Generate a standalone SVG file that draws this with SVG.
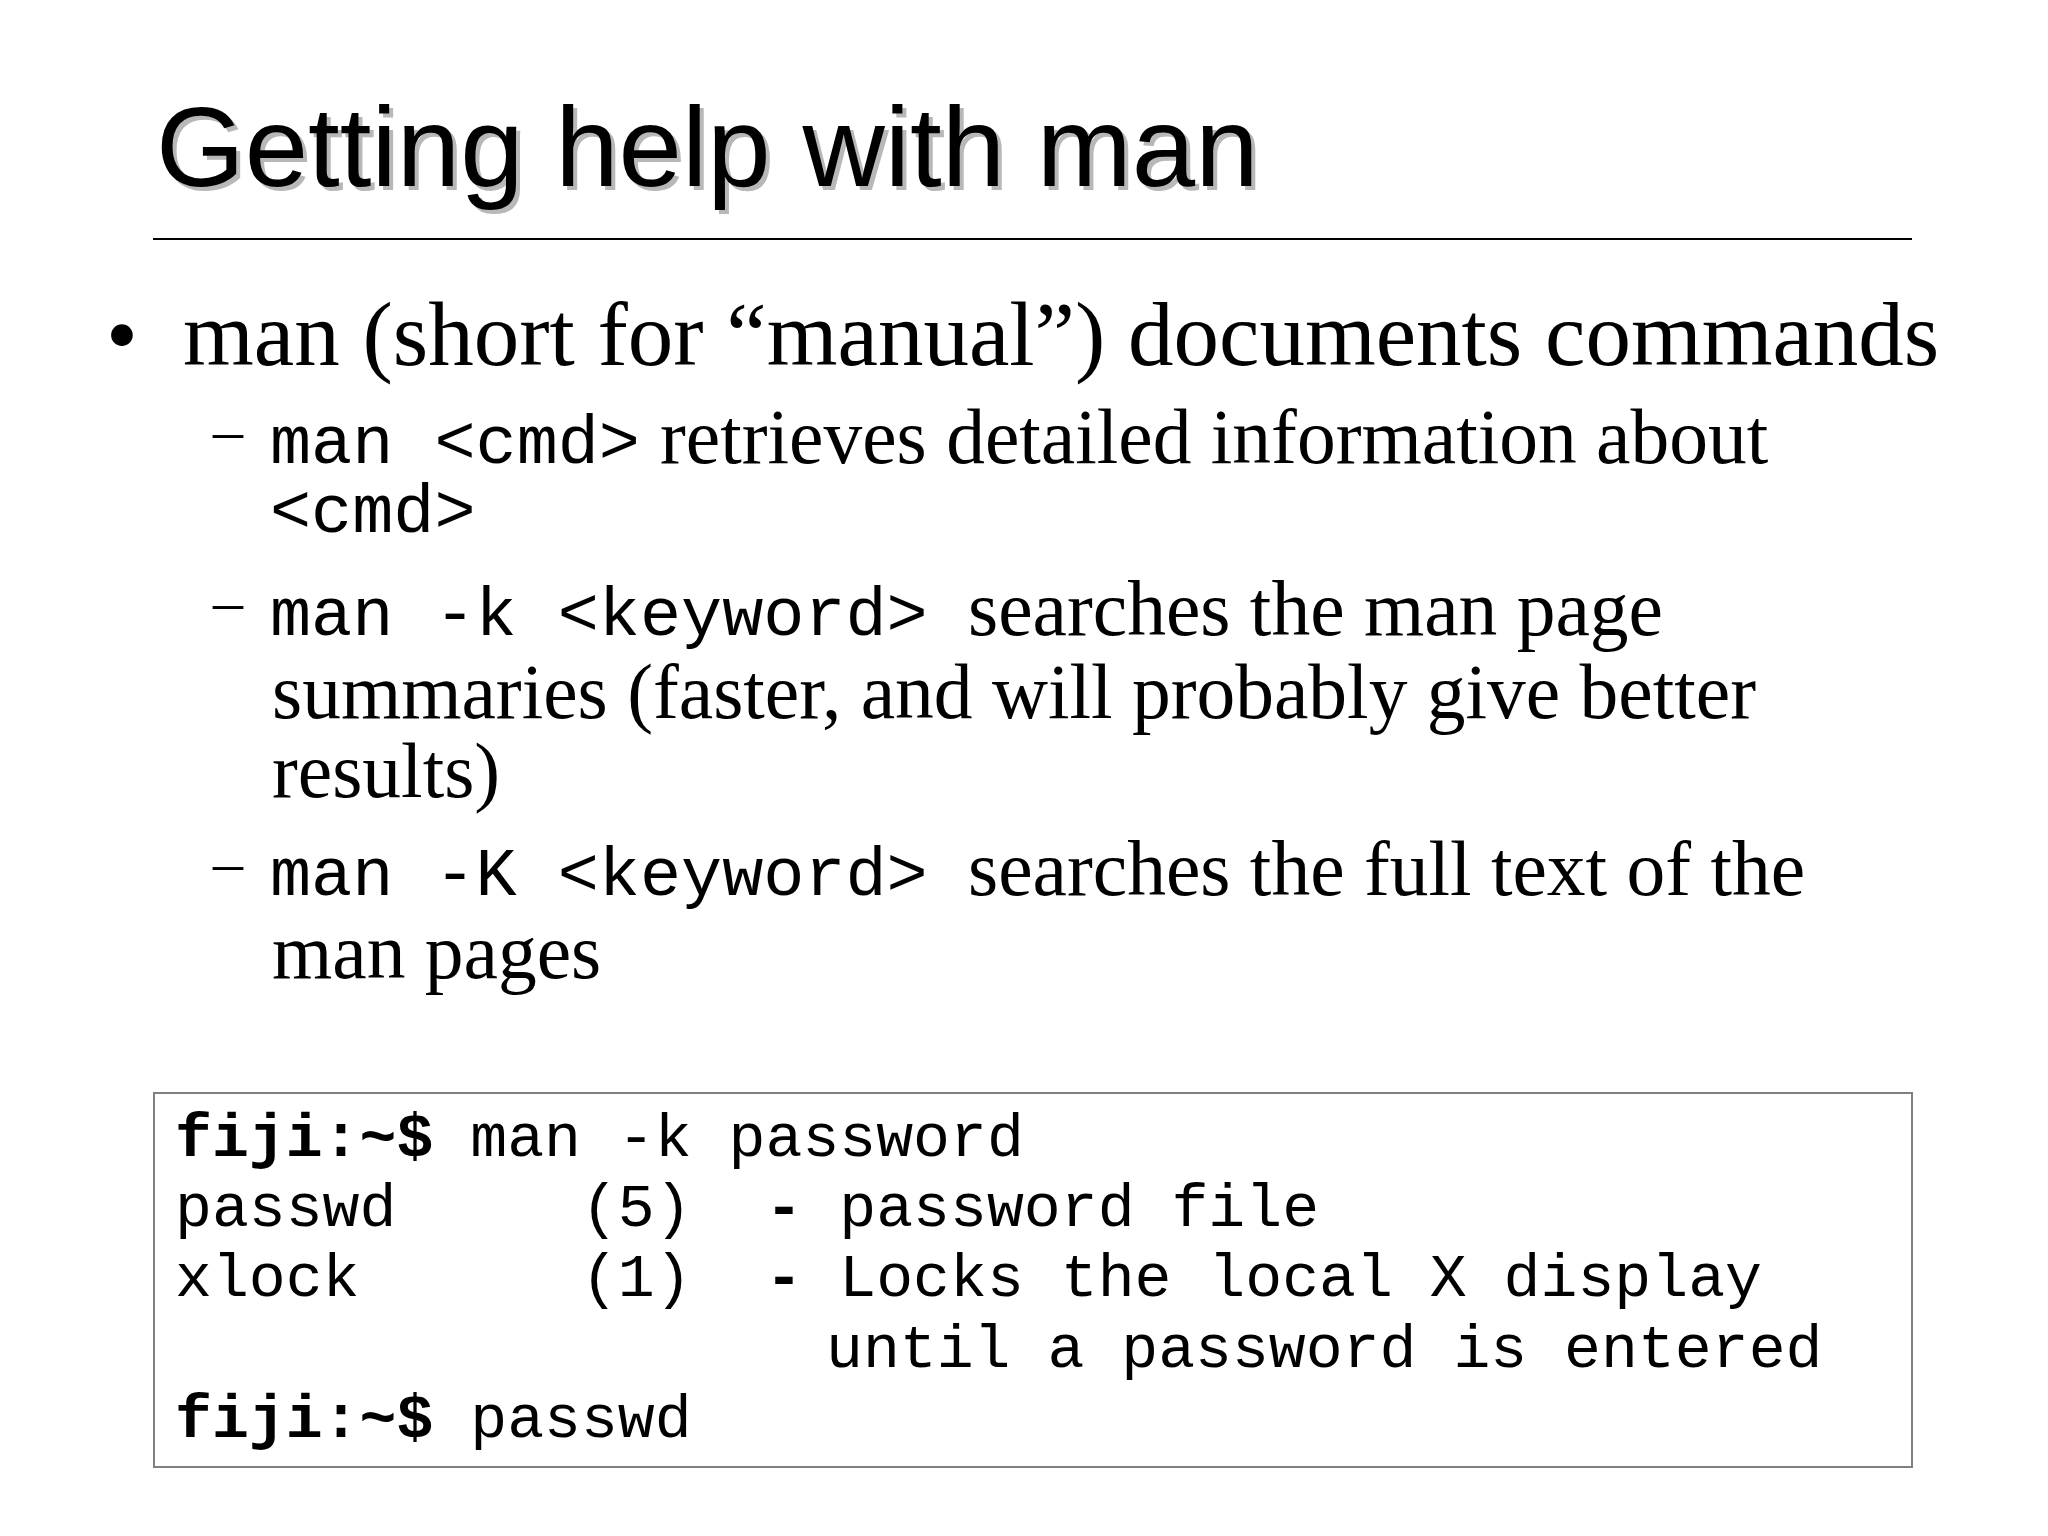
<svg xmlns="http://www.w3.org/2000/svg" width="2048" height="1536" viewBox="0 0 2048 1536">
<style>
.title{font-family:"Liberation Sans",Arial,sans-serif;font-size:114px}
.serif{font-family:"Liberation Serif","Times New Roman",serif;fill:#000}
.l1{font-size:91px}
.l2{font-size:77.5px}
.dash{font-size:60px}
.mono{font-family:"Liberation Mono","Courier New",monospace;fill:#000}
.m2{font-size:68.5px}
.code{font-size:61.5px;white-space:pre}
.b{font-weight:bold}
</style>
<rect x="0" y="0" width="2048" height="1536" fill="#ffffff"/>
<g id="title">
<text class="title" x="160" y="190" fill="#b8b8b8">Getting help with man</text>
<text class="title" x="156" y="186" fill="#000000">Getting help with man</text>
<line x1="153" y1="239" x2="1912" y2="239" stroke="#000" stroke-width="2"/>
</g>
<g id="bullet1">
<text class="serif l1" x="106" y="365">•</text>
<text class="serif l1" x="183" y="365">man (short for “manual”) documents commands</text>
</g>
<g id="sub1">
<text class="serif dash" x="213" y="450">–</text>
<text class="mono m2" x="270" y="463">man &lt;cmd&gt;</text>
<text class="serif l2" x="660" y="463">retrieves detailed information about</text>
<text class="mono m2" x="270" y="532">&lt;cmd&gt;</text>
</g>
<g id="sub2">
<text class="serif dash" x="213" y="621">–</text>
<text class="mono m2" x="270" y="635">man -k &lt;keyword&gt;</text>
<text class="serif l2" x="968" y="635">searches the man page</text>
<text class="serif l2" x="272" y="718">summaries (faster, and will probably give better</text>
<text class="serif l2" x="272" y="797">results)</text>
</g>
<g id="sub3">
<text class="serif dash" x="213" y="882">–</text>
<text class="mono m2" x="270" y="895">man -K &lt;keyword&gt;</text>
<text class="serif l2" x="968" y="895">searches the full text of the</text>
<text class="serif l2" x="272" y="978">man pages</text>
</g>
<g id="terminal">
<rect x="154" y="1093" width="1758" height="374" fill="#ffffff" stroke="#808080" stroke-width="2"/>
<text class="mono code" x="175" y="1156" xml:space="preserve"><tspan class="b">fiji:~$</tspan> man -k password</text>
<text class="mono code" x="175" y="1226" xml:space="preserve">passwd     (5)  <tspan class="b">-</tspan> password file</text>
<text class="mono code" x="175" y="1296" xml:space="preserve">xlock      (1)  <tspan class="b">-</tspan> Locks the local X display</text>
<text class="mono code" x="826" y="1367">until a password is entered</text>
<text class="mono code" x="175" y="1437" xml:space="preserve"><tspan class="b">fiji:~$</tspan> passwd</text>
</g>
</svg>
